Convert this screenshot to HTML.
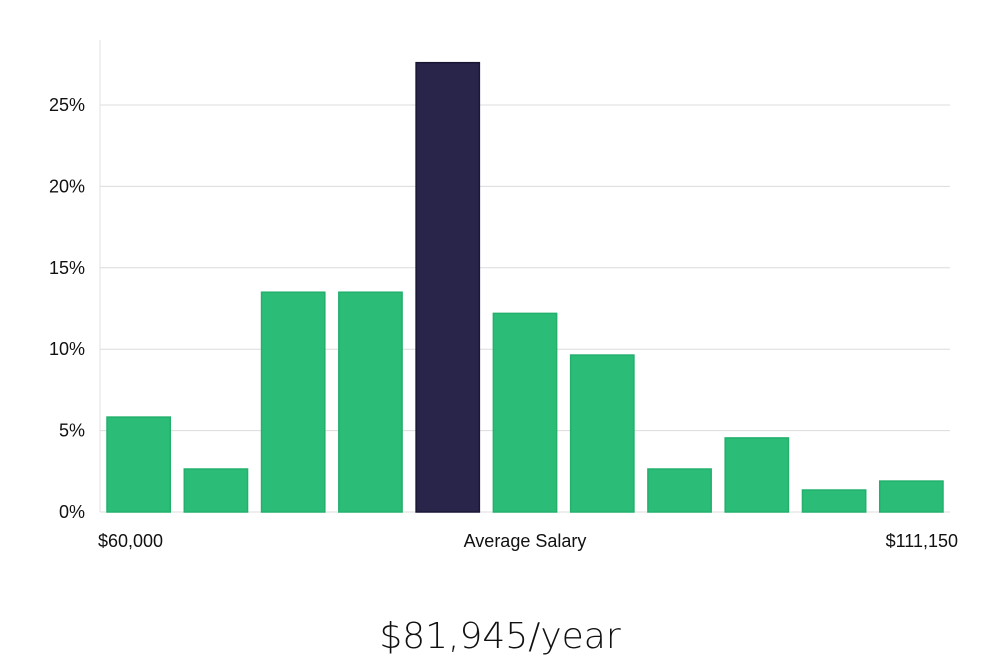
<!DOCTYPE html>
<html><head><meta charset="utf-8"><style>
body{margin:0;background:#fff;width:1000px;height:660px;overflow:hidden;font-family:"Liberation Sans","DejaVu Sans",sans-serif}
</style></head><body>
<svg id="chart" width="1000" height="660" xmlns="http://www.w3.org/2000/svg">
<g id="grid"></g>
<line x1="100" y1="40" x2="100" y2="512" stroke="#e2e2e2" stroke-width="1"/>
<g id="yticks"></g>
<g id="bars"></g>
<text x="98" y="547" font-size="18" fill="#111">$60,000</text>
<text x="525" y="547" font-size="18" fill="#111" text-anchor="middle">Average Salary</text>
<text x="958" y="547" font-size="18" fill="#111" text-anchor="end">$111,150</text>
<text x="500" y="648" font-size="36" fill="#111" text-anchor="middle" font-family="DejaVu Sans, sans-serif" font-weight="200">$81,945/year</text>
</svg>
<script>
const categories=["b1","b2","b3","b4","b5","b6","b7","b8","b9","b10","b11"];
const values=[5.83,2.64,13.5,13.5,27.6,12.2,9.64,2.64,4.55,1.35,1.9];
const highlightIndex=4;
const yTicks=[0,5,10,15,20,25];
const yTickLabels=["0%","5%","10%","15%","20%","25%"];
const NS="http://www.w3.org/2000/svg";
const x0=100,x1=950,y0=512,pxPerPct=16.28;
function y(v){return y0-v*pxPerPct;}
const band=(x1-x0)/categories.length;
function x(i){return x0+i*band;}
const grid=document.getElementById('grid'),yt=document.getElementById('yticks'),bars=document.getElementById('bars');
yTicks.forEach((t,i)=>{
 if(t>0){const l=document.createElementNS(NS,'line');
 
 
 l.setAttribute('x1',x0);l.setAttribute('x2',x1);l.setAttribute('y1',y(t));l.setAttribute('y2',y(t));
 l.setAttribute('stroke','#dcdcdc');l.setAttribute('stroke-width','1');grid.appendChild(l);}
 const tx=document.createElementNS(NS,'text');
 
 
 tx.setAttribute('x',85);tx.setAttribute('y',y(t)+6);tx.setAttribute('text-anchor','end');
 tx.setAttribute('font-size','18');tx.setAttribute('fill','#111');tx.textContent=yTickLabels[i];yt.appendChild(tx);
});
const base=document.createElementNS(NS,'line');


base.setAttribute('x1',x0);base.setAttribute('x2',x1);base.setAttribute('y1',y0);base.setAttribute('y2',y0);
base.setAttribute('stroke','#dcdcdc');grid.appendChild(base);
values.forEach((v,i)=>{
 const r=document.createElementNS(NS,'rect');
 
 
 const hi=i===highlightIndex;
 r.setAttribute('x',x(i)+7);r.setAttribute('width',band-14);
 r.setAttribute('y',y(v));r.setAttribute('height',y0-y(v));
 r.setAttribute('fill',hi?'#29244a':'#2bbd78');
 r.setAttribute('stroke',hi?'#1a1636':'#22b06c');r.setAttribute('stroke-width','1.5');
 bars.appendChild(r);
});
</script>
</body></html>
